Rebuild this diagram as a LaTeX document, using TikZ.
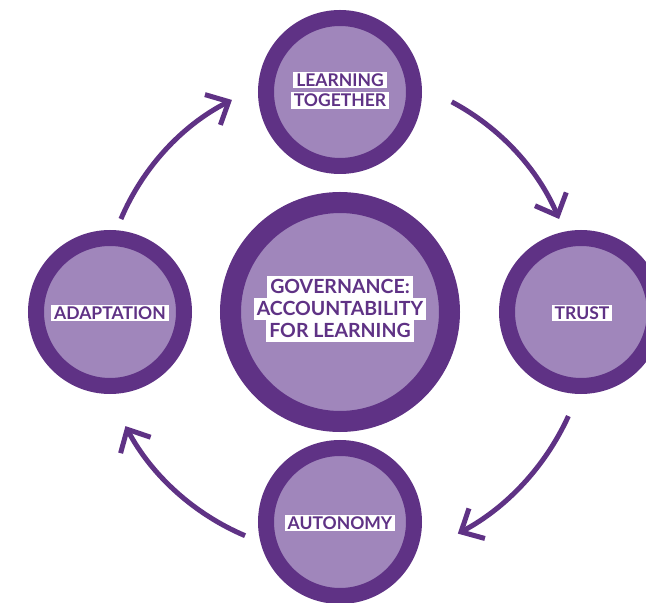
\documentclass[tikz,border=0pt]{standalone}
\usepackage{fontspec}
\setmainfont{Lato}
\usepackage{xcolor}
\usetikzlibrary{arrows.meta}
\usetikzlibrary{positioning}
\definecolor{ringpurple}{RGB}{95,50,133}
\definecolor{fillpurple}{RGB}{160,134,187}

\begin{document}
\begin{tikzpicture}[x=1pt,y=1pt]
\tikzset{ring/.style={
    circle,
    draw=ringpurple,
    fill=fillpurple,
    line width=16pt,
    minimum size=148pt,
    inner sep=0pt
  },
  big ring/.style={ring, line width=21pt, minimum size=219pt},
  tag box/.style={
    fill=white,
    text=ringpurple,
    inner xsep=3pt,
    inner ysep=0pt,
    outer sep=0pt,
    font=\bfseries\fontsize{17.5}{17.5}\selectfont,
    text height=14.5pt,
    text depth=2pt
  },
  big tag/.style={tag box, font=\bfseries\fontsize{19.5}{19.5}\selectfont,
    text height=17.5pt, text depth=4.5pt},
  cycle arrow/.style={ringpurple, line width=5pt,
    -{Straight Barb[length=18pt,width=34pt,sharp]}}
}
\useasboundingbox (0,0) rectangle (646,603);
\clip (0,0) rectangle (646,603);
\node[big ring] (gov) at (340,291) {};
\node[ring] (learn) at (340,511) {};
\node[ring] (trust) at (581,291) {};
\node[ring] (auton) at (340,81) {};
\node[ring] (adapt) at (110,291) {};

\node[big tag] (gov2) at ([yshift=3]gov) {ACCOUNTABILITY};
\node[big tag, above=0pt of gov2] (gov1) {GOVERNANCE:};
\node[big tag, below=0pt of gov2] (gov3) {FOR LEARNING};
\node[tag box] (learn1) at ([yshift=12]learn) {LEARNING};
\node[tag box, below=4pt of learn1] (learn2) {TOGETHER};
\node[tag box] (trust1) at ([xshift=1,yshift=-1]trust) {TRUST};
\node[tag box] (auton1) at ([yshift=-1]auton) {AUTONOMY};
\node[tag box] (adapt1) at ([yshift=-1]adapt) {ADAPTATION};

\coordinate (from adapt) at ([shift={(157:238)}]gov);
\coordinate (from learn) at ([shift={(62:238)}]gov);
\coordinate (from trust) at ([shift={(-24.5:251)}]gov);
\coordinate (from auton) at ([shift={(-113:243)}]gov);
\draw[cycle arrow] (from adapt) arc[start angle=157, end angle=117, radius=238];
\draw[cycle arrow] (from learn) arc[start angle=62, end angle=23, radius=238];
\draw[cycle arrow] (from trust) arc[start angle=-24.5, end angle=-62, radius=251];
\draw[cycle arrow] (from auton) arc[start angle=-113, end angle=-152, radius=243];
\end{tikzpicture}
\end{document}
